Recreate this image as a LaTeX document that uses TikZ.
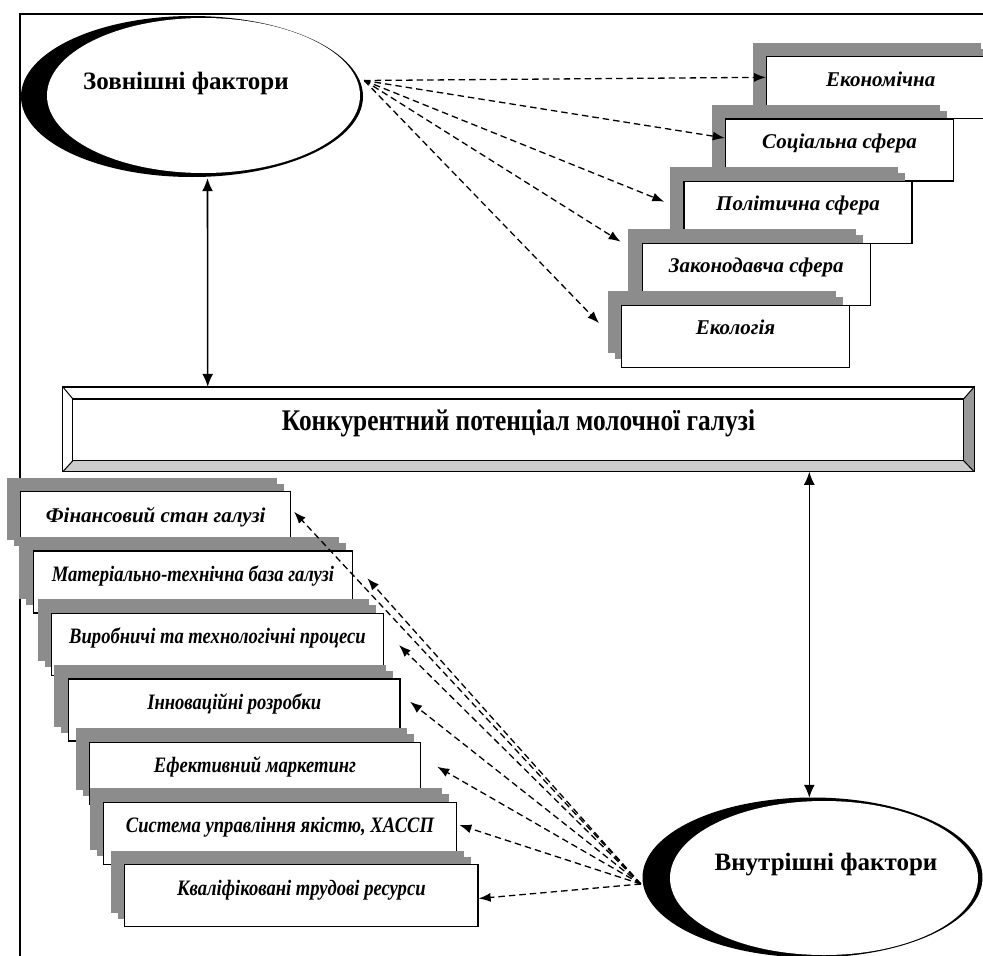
\documentclass[tikz,border=0pt]{standalone}
\usepackage{fontspec}
\setmainfont{Liberation Serif}
\newfontfamily\narrowserif[FakeStretch=0.845]{Liberation Serif}
\newfontfamily\condserif[FakeStretch=0.845]{Liberation Serif}
\usetikzlibrary{arrows.meta,shapes.geometric,shadows,positioning}

\tikzset{
  gshade/.style={general shadow={fill=black!45, shadow xshift=-14pt, shadow yshift=14pt},
                 general shadow={fill=black!45, shadow xshift=-7pt, shadow yshift=8pt}},
  rbox/.style={rectangle, draw, line width=1.4pt, fill=white, inner sep=0pt,
               minimum width=228pt, minimum height=62pt, text height=14pt, text depth=17pt,
               font=\bfseries\itshape\fontsize{21}{25}\selectfont, gshade},
  lbox/.style={rectangle, draw, line width=1.4pt, fill=white, inner sep=0pt,
               minimum height=62pt, text height=15pt, text depth=16pt,
               font=\condserif\bfseries\itshape\fontsize{22}{26}\selectfont, gshade},
  ellip/.style={ellipse, fill=white, inner sep=0pt},
  elltext/.style={font=\bfseries\fontsize{25}{29}\selectfont},
  konkbox/.style={rectangle, fill=white, inner sep=0pt, minimum width=911pt,
                  minimum height=84.5pt, text height=21pt, text depth=19pt,
                  font=\narrowserif\bfseries\fontsize{30}{34}\selectfont},
  dasharr/.style={-{Latex[length=12pt,width=9pt]}, dash pattern=on 6.5pt off 4pt, line width=1.3pt},
  dblarr/.style={{Latex[length=13pt,width=11pt]}-{Latex[length=13pt,width=11pt]}, line width=1.6pt}
}

\begin{document}
\begin{tikzpicture}[x=1pt,y=1pt,on grid]
\useasboundingbox (0,0) rectangle (983,-956);
\clip (0,0) rectangle (983,-956);

% frame
\draw[line width=1.5pt] (20,-960) -- (20,-14) -- (990,-14);

% external factors
\fill[black] (192,-96.5) ellipse [x radius=171, y radius=80.5];
\node[ellip, minimum width=313pt, minimum height=155pt] (zovn) at (203.5,-95.5) {};
\node[elltext] (zovnlbl) at (186,-83) {Зовнішні фактори};

% right stack
\node[rbox] (eco) at (880.7,-87.7) {Економічна};
\node[rbox, below left=62.3pt and 41.2pt of eco] (soc) {Соціальна сфера};
\node[rbox, below left=62.2pt and 41.5pt of soc] (pol) {Політична сфера};
\node[rbox, below left=62pt and 41.7pt of pol] (zak) {Законодавча сфера};
\node[rbox, below left=62pt and 20.8pt of zak] (ekol) {Екологія};

% main box
\node[konkbox] (konk) at (518.5,-429.3) {Конкурентний потенціал молочної галузі};
\fill[black!20] (konk.south west) -- (konk.south east) -- ([shift={(-10.5pt,11pt)}]konk.south east)
  -- ([shift={(10pt,11pt)}]konk.south west) -- cycle;
\fill[black!40] (konk.south east) -- (konk.north east) -- ([shift={(-10.5pt,-12pt)}]konk.north east)
  -- ([shift={(-10.5pt,11pt)}]konk.south east) -- cycle;
\draw[line width=1.3pt] (konk.south west) rectangle (konk.north east);
\draw[line width=1.3pt] ([shift={(10pt,-12pt)}]konk.north west) rectangle ([shift={(-10.5pt,11pt)}]konk.south east);
\draw[line width=1pt] (konk.north west) -- ([shift={(10pt,-12pt)}]konk.north west)
  (konk.south west) -- ([shift={(10pt,11pt)}]konk.south west)
  (konk.north east) -- ([shift={(-10.5pt,-12pt)}]konk.north east)
  (konk.south east) -- ([shift={(-10.5pt,11pt)}]konk.south east);

% left stack
\node[lbox, minimum width=270pt, font=\bfseries\itshape\fontsize{21}{25}\selectfont] (fin) at (155.7,-522.7) {Фінансовий стан галузі};
\node[lbox, minimum width=319.4pt, below right=59.3pt and 37.3pt of fin] (mat) {Матеріально-технічна база галузі};
\node[lbox, minimum width=331.6pt, below right=62.2pt and 24.5pt of mat] (vyr) {Виробничі та технологічні процеси};
\node[lbox, minimum width=331.7pt, below right=65.8pt and 16.7pt of vyr] (inn) {Інноваційні розробки};
\node[lbox, minimum width=331pt, below right=63.3pt and 20.8pt of inn] (mark) {Ефективний маркетинг};
\node[lbox, minimum width=352.8pt, below right=60.1pt and 25pt of mark] (yak) {Система управління якістю, ХАССП};
\node[lbox, minimum width=353.3pt, below right=62.1pt and 21.3pt of yak] (kadr) {Кваліфіковані трудові ресурси};

% internal factors
\fill[black] (812.5,-877.5) ellipse [x radius=170, y radius=80];
\node[ellip, minimum width=308pt, minimum height=154pt] (vnut) at (824,-878) {};
\node[elltext] (vnutlbl) at (826,-865) {Внутрішні фактори};

% links
\draw[dblarr] ([shift={(4pt,-5pt)}]zovn.south) -- ([xshift=-310.8pt]konk.north);
\draw[dblarr] ([xshift=290.8pt]konk.south) -- ([shift={(-14.7pt,3pt)}]vnut.north);

\path[dasharr] ([shift={(4pt,15pt)}]zovn.east)
      edge ([yshift=10.4pt]eco.west)
      edge ([yshift=12pt]soc.west)
      edge ([shift={(-19pt,10.5pt)}]pol.west)
      edge ([shift={(-21pt,32.5pt)}]zak.west)
      edge ([shift={(-21.7pt,13pt)}]ekol.west);

\path[dasharr] ([shift={(-29pt,-6pt)}]vnut.west)
      edge ([shift={(2.6pt,11pt)}]fin.east)
      edge ([shift={(14pt,3.7pt)}]mat.east)
      edge ([shift={(15pt,-0.8pt)}]vyr.east)
      edge ([shift={(9.3pt,8.3pt)}]inn.east)
      edge ([shift={(16pt,6.6pt)}]mark.east)
      edge ([shift={(2.3pt,8.4pt)}]yak.east)
      edge ([shift={(0pt,-3pt)}]kadr.east);
\end{tikzpicture}
\end{document}
